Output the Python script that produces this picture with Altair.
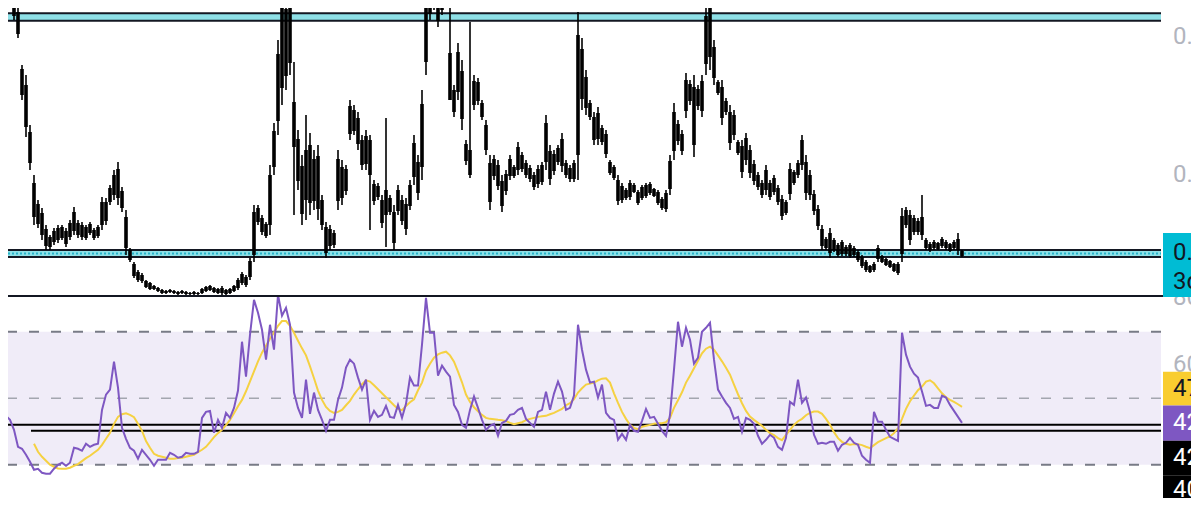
import altair as alt
import pandas as pd

# ---------------- price bars (price units, higher = up) ----------------
bar_high = [
    317, 327, 322, 302, 289, 232, 222, 172, 122, 97,
    89, 72, 62, 69, 72, 72, 69, 77, 90, 77,
    75, 72, 75, 69, 72, 100, 99, 112, 127, 135,
    110, 87, 49, 35, 27, 24, 17, 15, 12, 10,
    8, 7, 8, 7, 6, 7, 6, 5, 6, 5,
    9, 11, 12, 10, 9, 11, 8, 9, 12, 19,
    25, 22, 39, 92, 92, 82, 75, 132, 174, 257,
    307, 302, 305, 235, 167, 142, 182, 164, 147, 152,
    102, 75, 72, 67, 147, 137, 132, 197, 192, 185,
    162, 167, 162, 117, 114, 102, 179, 102, 92, 112,
    102, 99, 117, 162, 142, 207, 307, 317, 317, 312,
    317, 322, 297, 212, 254, 237, 157, 275, 222, 219,
    197, 177, 142, 142, 137, 122, 127, 142, 132, 155,
    145, 137, 132, 125, 132, 135, 182, 152, 147, 152,
    164, 137, 132, 137, 285, 259, 227, 197, 185, 190,
    172, 167, 137, 132, 122, 114, 109, 117, 114, 107,
    112, 114, 115, 109, 107, 100, 107, 142, 194, 177,
    167, 224, 217, 222, 212, 222, 292, 312, 257, 217,
    217, 199, 192, 187, 157, 157, 164, 152, 137, 125,
    117, 132, 117, 122, 112, 102, 97, 134, 127, 137,
    162, 142, 127, 107, 92, 72, 60, 69, 59, 54,
    57, 52, 54, 51, 47, 42, 37, 32, 35, 52,
    42, 39, 37, 34, 35, 89, 90, 87, 82, 79,
    102, 59, 55, 57, 55, 60, 57, 54, 57, 64,
    47,
]
bar_low = [
    254, 302, 299, 277, 259, 197, 160, 127, 72, 69,
    57, 47, 47, 52, 54, 57, 50, 57, 62, 59,
    57, 57, 62, 57, 59, 67, 72, 92, 97, 92,
    85, 42, 35, 19, 15, 14, 9, 7, 7, 5,
    3, 3, 4, 3, 2, 3, 2, 2, 2, 2,
    3, 5, 6, 4, 3, 2, 2, 3, 5, 7,
    12, 10, 17, 35, 72, 62, 59, 62, 122, 162,
    192, 207, 222, 82, 107, 72, 77, 82, 87, 77,
    67, 39, 47, 49, 87, 92, 102, 157, 162, 147,
    127, 127, 67, 92, 97, 69, 50, 82, 47, 82,
    72, 62, 87, 112, 97, 117, 222, 277, 287, 270,
    282, 302, 197, 180, 197, 167, 132, 119, 187, 192,
    177, 142, 87, 117, 107, 85, 102, 117, 119, 122,
    125, 119, 115, 107, 109, 112, 127, 112, 122, 132,
    125, 119, 115, 115, 117, 187, 182, 177, 152, 152,
    152, 139, 122, 117, 92, 94, 97, 97, 104, 92,
    97, 99, 102, 100, 92, 87, 85, 102, 137, 152,
    142, 179, 192, 140, 187, 180, 222, 227, 212, 202,
    172, 182, 147, 157, 142, 119, 132, 119, 112, 107,
    99, 102, 97, 102, 92, 77, 82, 97, 112, 119,
    127, 97, 97, 82, 67, 47, 47, 39, 45, 40,
    41, 41, 39, 40, 35, 29, 25, 24, 25, 35,
    34, 31, 29, 25, 22, 35, 69, 52, 62, 62,
    57, 47, 45, 47, 47, 49, 47, 45, 47, 42,
    40,
]
body_hi = [
    300, 322, 318, 298, 285, 228, 212, 165, 114, 93,
    84, 68, 60, 66, 69, 70, 66, 74, 85, 74,
    72, 70, 73, 67, 70, 95, 95, 109, 122, 128,
    106, 80, 47, 33, 25, 22, 16, 14, 11, 9,
    7, 6, 7, 6, 5, 6, 5, 4, 5, 4,
    8, 10, 11, 9, 8, 9, 7, 8, 11, 17,
    23, 20, 36, 85, 89, 79, 73, 122, 166, 243,
    290, 288, 292, 195, 158, 131, 147, 152, 138, 141,
    97, 70, 68, 64, 138, 130, 128, 191, 187, 179,
    157, 161, 157, 113, 111, 97, 107, 99, 85, 107,
    97, 93, 112, 154, 135, 193, 294, 311, 312, 305,
    311, 319, 244, 207, 245, 226, 153, 147, 216, 215,
    194, 172, 134, 138, 132, 116, 123, 138, 130, 150,
    142, 134, 129, 122, 128, 132, 174, 146, 143, 149,
    158, 134, 129, 134, 262, 248, 220, 194, 180, 184,
    169, 163, 135, 130, 117, 111, 107, 114, 112, 105,
    110, 112, 113, 108, 105, 98, 104, 136, 185, 173,
    163, 217, 213, 210, 208, 216, 281, 299, 250, 215,
    210, 196, 185, 182, 155, 151, 159, 147, 133, 122,
    114, 127, 114, 119, 109, 98, 95, 128, 125, 134,
    157, 135, 122, 103, 88, 68, 58, 64, 57, 52,
    55, 50, 52, 49, 45, 40, 35, 31, 33, 49,
    41, 38, 36, 33, 33, 81, 87, 82, 79, 76,
    80, 57, 53, 55, 54, 58, 55, 53, 55, 58,
    46,
]
body_lo = [
    258, 306, 302, 281, 263, 202, 170, 134, 80, 73,
    62, 51, 50, 55, 57, 59, 53, 60, 66, 62,
    60, 59, 64, 59, 61, 72, 76, 95, 102, 99,
    89, 49, 37, 21, 17, 16, 10, 8, 8, 6,
    4, 4, 5, 4, 3, 4, 3, 3, 3, 3,
    4, 6, 7, 5, 4, 4, 3, 4, 6, 9,
    14, 12, 20, 42, 75, 65, 61, 72, 130, 176,
    209, 221, 234, 150, 116, 83, 97, 94, 96, 88,
    72, 44, 51, 52, 96, 99, 106, 163, 166, 153,
    132, 133, 122, 96, 100, 74, 82, 85, 54, 86,
    76, 68, 91, 120, 104, 130, 235, 283, 291, 276,
    287, 305, 197, 185, 205, 178, 136, 122, 192, 196,
    180, 147, 95, 121, 111, 91, 106, 121, 121, 127,
    128, 122, 118, 110, 113, 115, 135, 118, 126, 135,
    131, 122, 118, 118, 142, 198, 189, 180, 157, 158,
    155, 143, 124, 119, 96, 97, 99, 100, 105, 94,
    99, 101, 104, 101, 94, 89, 88, 108, 146, 156,
    146, 186, 196, 152, 191, 186, 233, 240, 219, 204,
    179, 185, 154, 162, 144, 125, 137, 124, 116, 110,
    102, 107, 100, 105, 95, 81, 84, 103, 114, 122,
    132, 104, 102, 86, 71, 51, 49, 44, 47, 42,
    43, 43, 41, 42, 37, 31, 27, 25, 27, 38,
    35, 32, 30, 26, 24, 43, 72, 57, 65, 65,
    62, 49, 47, 49, 48, 51, 49, 46, 49, 47,
    41,
]

# ---------------- RSI and its moving average ----------------
rsi = [
    37.5, 44.7, 43.5, 40.5, 35.4, 34.8, 33.0, 30.9, 28.5, 28.8,
    27.6, 27.3, 27.3, 28.8, 30.0, 30.6, 29.7, 30.6, 35.1, 34.8,
    34.2, 36.3, 35.4, 36.0, 36.3, 46.5, 51.1, 52.6, 61.0, 53.2,
    41.1, 37.8, 35.1, 34.2, 31.8, 34.5, 33.0, 31.5, 29.7, 31.5,
    31.5, 31.5, 33.6, 33.0, 32.1, 32.4, 33.6, 33.3, 33.3, 33.9,
    44.1, 45.9, 46.2, 39.6, 43.5, 41.1, 45.6, 44.1, 47.1, 52.3,
    67.0, 56.5, 69.1, 79.6, 75.7, 70.6, 61.6, 72.1, 64.6, 81.1,
    74.8, 77.2, 72.1, 51.7, 47.1, 44.1, 55.6, 45.3, 51.7, 46.5,
    43.5, 40.2, 43.5, 43.5, 49.5, 53.2, 59.2, 61.6, 60.4, 56.2,
    52.6, 55.6, 43.5, 46.2, 44.4, 45.0, 47.7, 44.4, 44.1, 48.0,
    44.1, 48.3, 56.2, 53.8, 53.8, 66.1, 80.2, 69.7, 69.7, 56.8,
    59.8, 58.0, 56.5, 48.0, 45.9, 42.0, 41.1, 46.5, 50.5, 47.1,
    43.5, 40.5, 41.7, 42.3, 38.7, 42.6, 43.2, 45.0, 45.3, 46.5,
    47.1, 43.8, 42.6, 41.4, 45.9, 46.5, 52.0, 46.5, 51.4, 55.0,
    52.0, 46.5, 47.1, 50.8, 72.1, 64.6, 58.6, 54.7, 55.0, 50.2,
    54.1, 45.6, 44.1, 43.5, 37.5, 39.3, 37.5, 42.0, 40.2, 39.9,
    43.2, 46.8, 44.1, 44.4, 42.3, 40.2, 38.7, 45.0, 58.6, 73.0,
    65.5, 71.2, 67.6, 60.4, 62.2, 70.0, 71.2, 72.7, 61.6, 52.6,
    50.5, 48.6, 47.1, 43.8, 44.4, 39.9, 44.1, 43.5, 42.3, 38.7,
    36.3, 37.5, 39.0, 38.1, 35.4, 34.5, 38.1, 48.9, 48.0, 55.6,
    48.6, 50.2, 45.9, 39.0, 36.3, 36.6, 36.3, 36.9, 36.9, 34.2,
    36.0, 36.6, 38.1, 36.6, 36.0, 32.7, 31.5, 30.6, 45.9, 42.9,
    42.9, 40.5, 38.4, 37.8, 37.2, 69.7, 63.1, 59.5, 57.4, 56.2,
    52.0, 47.7, 48.0, 47.1, 47.1, 50.8, 50.2, 48.0, 46.2, 44.4,
    42.6,
]
RSI_MA_START = 8
rsi_ma = [
    36.3, 33.9, 32.4, 31.2, 30.0, 29.4, 28.9, 28.8, 28.8, 29.1,
    29.7, 30.2, 31.1, 32.0, 32.7, 33.6, 34.5, 36.0, 37.8, 39.6,
    42.3, 44.4, 45.2, 45.5, 45.0, 44.3, 42.3, 40.2, 37.1, 35.1,
    33.3, 32.7, 32.4, 32.1, 31.8, 31.8, 32.0, 32.1, 32.4, 32.7,
    33.0, 33.8, 34.5, 35.4, 36.8, 38.3, 39.5, 40.5, 41.9, 43.5,
    45.5, 47.6, 49.5, 52.1, 55.1, 58.1, 61.1, 63.7, 65.8, 67.9,
    69.8, 71.8, 73.2, 73.2, 71.8, 69.7, 67.3, 65.0, 62.9, 59.6,
    56.0, 52.3, 49.5, 47.4, 46.2, 45.6, 45.9, 46.5, 47.9, 49.2,
    51.1, 52.7, 54.2, 55.4, 55.0, 53.9, 52.7, 51.5, 50.3, 49.1,
    47.9, 46.8, 46.4, 47.7, 48.8, 49.7, 52.4, 54.7, 58.3, 60.4,
    62.2, 63.2, 63.7, 64.0, 62.9, 61.0, 58.0, 54.8, 51.1, 48.9,
    47.3, 46.1, 45.0, 44.1, 43.8, 43.7, 43.5, 43.4, 43.1, 42.6,
    42.2, 42.5, 42.8, 43.4, 43.8, 44.1, 44.4, 44.6, 44.7, 45.2,
    45.6, 46.2, 46.8, 47.9, 48.5, 49.7, 51.7, 53.0, 54.1, 54.4,
    54.7, 55.4, 55.9, 56.0, 54.7, 51.5, 48.6, 45.9, 43.8, 42.0,
    41.1, 40.7, 41.4, 41.7, 42.0, 42.3, 42.5, 42.5, 42.8, 44.1,
    47.1, 49.4, 51.8, 54.7, 56.8, 59.0, 61.3, 63.5, 64.9, 65.5,
    64.6, 62.9, 61.1, 59.2, 57.1, 54.1, 51.2, 48.5, 46.2, 44.5,
    43.5, 42.6, 41.7, 40.5, 39.5, 38.9, 38.0, 37.4, 39.0, 40.5,
    42.0, 43.1, 43.8, 44.9, 45.6, 46.0, 46.0, 45.3, 43.8, 42.0,
    39.8, 38.0, 36.9, 36.3, 36.0, 36.2, 36.2, 35.9, 35.4, 35.0,
    35.9, 36.8, 37.4, 38.0, 38.5, 39.5, 41.0, 43.8, 46.8, 49.1,
    50.8, 52.4, 53.5, 55.0, 55.4, 54.5, 53.0, 51.5, 50.3, 49.5,
    48.9, 48.2, 47.4,
]

# ---------------- levels and labels ----------------
band_lo = [276.3, 40.0]
band_hi = [283.7, 47.0]
band_mid_dotted = [43.5]
price_axis_vals = [260, 122]
price_axis_txt = ["0.05000", "0.04000"]
price_tag_range = [0, 64]
price_tag_vals = [44, 15]
price_tag_txt = ["0.03312", "3d 14h"]

rsi_zone = [30, 70]
rsi_dash_dark = [70, 30]
rsi_dash_light = [50]
hline_vals = [42.03, 40.23]
hline_start = [-2, 7.25]          # bar index where each line starts
rsi_axis_vals = [80, 60]
rsi_axis_txt = ["80.00", "60.00"]
tag_lo = [47.8, 37.2, 26.7, 10.0]
tag_hi = [58.0, 47.8, 37.2, 26.7]
tag_mid = [52.9, 42.5, 31.95, 22.3]
tag_txt = ["47.38", "42.61", "42.03", "40.23"]
tag_fill = ["#f9cd2f", "#7e57c2", "#000000", "#000000"]
tag_ink = ["#131722", "#ffffff", "#ffffff", "#ffffff"]

# ---------------- layout ----------------
W = 1183
H_TOP = 289
H_BOT = 201
RIGHT = 1153
TAG_X = 1155
LABEL_X = 1165
FONT = "Roboto"

n = min(len(bar_high), len(bar_low), len(body_hi), len(body_lo))
bars = pd.DataFrame({
    "i": list(range(n)),
    "high": bar_high[:n], "low": bar_low[:n],
    "bhi": body_hi[:n], "blo": body_lo[:n],
})
rsi_df = pd.DataFrame({"i": list(range(len(rsi))), "v": rsi})
ma_df = pd.DataFrame({"i": [RSI_MA_START + k for k in range(len(rsi_ma))], "v": rsi_ma})

xs = alt.Scale(domain=[1.5, 1.5 + W / 4], nice=False, zero=False)
ys_top = alt.Scale(domain=[0, H_TOP], nice=False, zero=False)
ys_bot = alt.Scale(domain=[80.45 - H_BOT / 3.325, 80.45], nice=False, zero=False)


def X(f):
    return alt.X(f, type="quantitative", scale=xs, axis=None)


def YT(f):
    return alt.Y(f, type="quantitative", scale=ys_top, axis=None)


def YB(f):
    return alt.Y(f, type="quantitative", scale=ys_bot, axis=None)


# ---- top panel ----
bands = alt.Chart(pd.DataFrame({"lo": band_lo, "hi": band_hi})).mark_rect(
    color="#8ee0e7", clip=True
).encode(x=alt.value(0), x2=alt.value(RIGHT), y=YT("lo"), y2="hi:Q")

dotted = alt.Chart(pd.DataFrame({"v": band_mid_dotted})).mark_rule(
    color="#27b3c9", strokeWidth=2, strokeDash=[2, 2], clip=True
).encode(x=alt.value(0), x2=alt.value(RIGHT), y=YT("v"))

edges = alt.Chart(pd.DataFrame({"v": band_lo + band_hi})).mark_rule(
    color="#131722", strokeWidth=2, clip=True
).encode(x=alt.value(0), x2=alt.value(RIGHT), y=YT("v"))

wicks = alt.Chart(bars).mark_rule(color="#000000", strokeWidth=1.6, clip=True).encode(
    x=X("i"), y=YT("low"), y2="high:Q"
)
bodies = alt.Chart(bars).mark_rule(
    color="#000000", strokeWidth=3.6, strokeCap="butt", clip=True
).encode(x=X("i"), y=YT("blo"), y2="bhi:Q")

sep = alt.Chart(pd.DataFrame({"v": [0]})).mark_rule(
    color="#131722", strokeWidth=2, clip=True
).encode(x=alt.value(0), x2=alt.value(TAG_X), y=alt.value(H_TOP - 1))

ptag = alt.Chart(pd.DataFrame({"lo": [price_tag_range[0]], "hi": [price_tag_range[1]]})).mark_rect(
    color="#00bcd4", clip=True
).encode(x=alt.value(TAG_X), x2=alt.value(W + 20), y=YT("lo"), y2="hi:Q")

ptag_text = alt.Chart(pd.DataFrame({"v": price_tag_vals, "t": price_tag_txt})).mark_text(
    align="left", baseline="middle", fontSize=24, font=FONT, color="#131722", clip=True
).encode(x=alt.value(LABEL_X), y=YT("v"), text="t:N")

paxis = alt.Chart(pd.DataFrame({"v": price_axis_vals, "t": price_axis_txt})).mark_text(
    align="left", baseline="middle", fontSize=24, font=FONT, color="#b2b5be", clip=True
).encode(x=alt.value(LABEL_X), y=YT("v"), text="t:N")

top = alt.layer(bands, dotted, edges, wicks, bodies, sep, ptag, ptag_text, paxis).properties(
    width=W, height=H_TOP
)

# ---- bottom panel ----
zone = alt.Chart(pd.DataFrame({"lo": [rsi_zone[0]], "hi": [rsi_zone[1]]})).mark_rect(
    color="#f0ecf8", clip=True
).encode(x=alt.value(0), x2=alt.value(RIGHT), y=YB("lo"), y2="hi:Q")

dash_dark = alt.Chart(pd.DataFrame({"v": rsi_dash_dark})).mark_rule(
    color="#787b86", strokeWidth=2, strokeDash=[10, 12], strokeDashOffset=1, clip=True
).encode(x=alt.value(0), x2=alt.value(RIGHT), y=YB("v"))

dash_light = alt.Chart(pd.DataFrame({"v": rsi_dash_light})).mark_rule(
    color="#a3a6af", strokeWidth=1.5, strokeDash=[10, 12], strokeDashOffset=1, clip=True
).encode(x=alt.value(0), x2=alt.value(RIGHT), y=YB("v"))

hlines = alt.Chart(pd.DataFrame({"v": hline_vals, "s": hline_start})).mark_rule(
    color="#000000", strokeWidth=2, clip=True
).encode(x=X("s"), x2=alt.value(RIGHT), y=YB("v"))

rsi_line = alt.Chart(rsi_df).mark_line(color="#7e57c2", strokeWidth=2, clip=True).encode(
    x=X("i"), y=YB("v")
)
ma_line = alt.Chart(ma_df).mark_line(color="#f5d142", strokeWidth=2, clip=True).encode(
    x=X("i"), y=YB("v")
)

raxis = alt.Chart(pd.DataFrame({"v": rsi_axis_vals, "t": rsi_axis_txt})).mark_text(
    align="left", baseline="middle", fontSize=24, font=FONT, color="#b2b5be", clip=True
).encode(x=alt.value(LABEL_X), y=YB("v"), text="t:N")

tags_df = pd.DataFrame({
    "lo": tag_lo, "hi": tag_hi, "mid": tag_mid, "t": tag_txt,
    "fill": tag_fill, "ink": tag_ink,
})
rtags = alt.Chart(tags_df).mark_rect(clip=True).encode(
    x=alt.value(TAG_X), x2=alt.value(W + 20), y=YB("lo"), y2="hi:Q",
    color=alt.Color("fill:N", scale=None),
)
rtag_text = alt.Chart(tags_df).mark_text(
    align="left", baseline="middle", fontSize=24, font=FONT, clip=True
).encode(x=alt.value(LABEL_X), y=YB("mid"), text="t:N", color=alt.Color("ink:N", scale=None))

bottom = alt.layer(zone, dash_dark, dash_light, hlines, ma_line, rsi_line, raxis, rtags, rtag_text).properties(
    width=W, height=H_BOT
)

chart = alt.vconcat(top, bottom, spacing=0, bounds="flush", padding=0, background="white").configure_view(
    stroke=None
)

chart.save("out.html", embed_options={"renderer": "svg", "actions": False})
